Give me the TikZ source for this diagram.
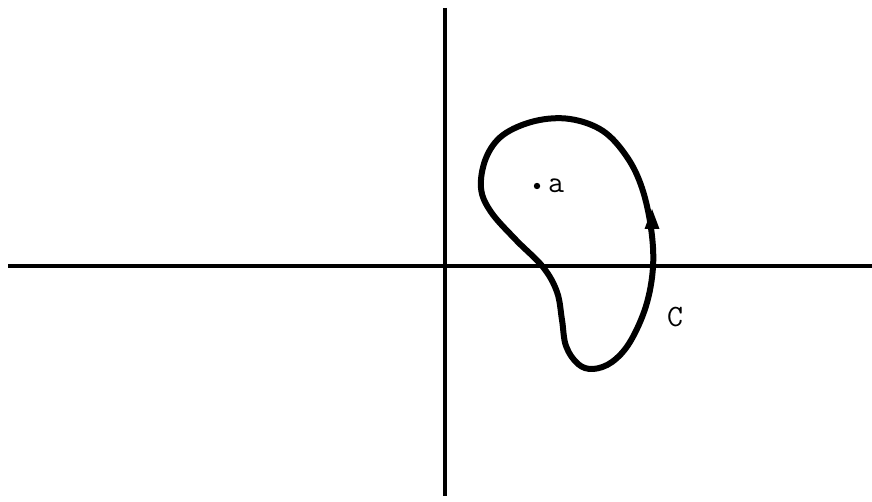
\documentclass[tikz,border=0pt]{standalone}
\tikzset{
  axis/.style={line width=4.3pt},
  contour/.style={line width=6pt, line join=round},
  lbl/.style={font=\ttfamily\fontsize{31}{31}\selectfont, inner sep=0pt},
}
\begin{document}
\begin{tikzpicture}[x=1pt,y=-1pt]
\useasboundingbox (0,0) rectangle (872,502);
\coordinate (xl) at (8,266);
\coordinate (xr) at (872,266);
\coordinate (yt) at (445,8);
\coordinate (yb) at (445,496);
\draw[axis] (xl) -- (xr);
\draw[axis] (yt) -- (yb);
\draw[contour] plot[smooth cycle, tension=0.6] coordinates {
 (653,267) (651,228) (642,188) (627,157) (603,131) (570,119) (535,121)
 (503,135) (486,158) (481,188) (491,212) (516,240) (543,267) (557,292)
 (562,320) (566,346) (578,364) (593,369) (612,362) (630,342) (646,306)};
\fill (652,209) -- (644.5,229) -- (659.5,229) -- cycle;
\fill (537,186) circle (3.2pt);
\node[lbl] (a) at (556,186) {a};
\node[lbl] (c) at (675,317) {C};
\end{tikzpicture}
\end{document}
